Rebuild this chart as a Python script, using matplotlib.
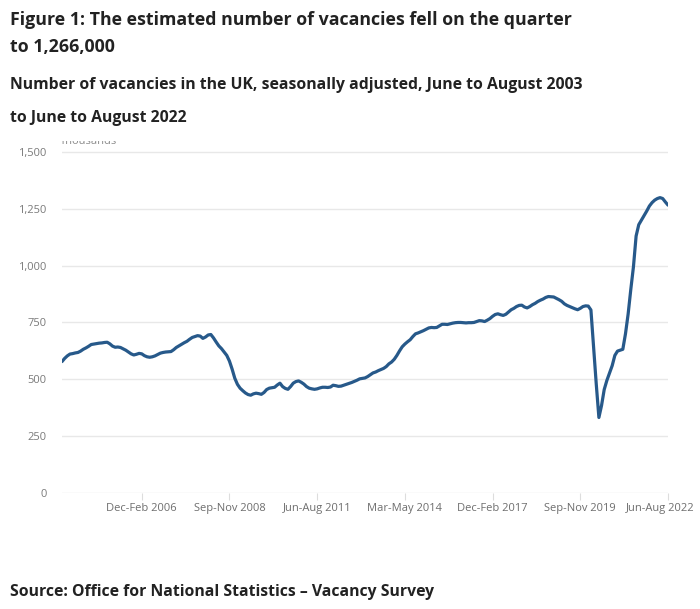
import matplotlib
matplotlib.use("Agg")
import matplotlib.pyplot as plt
import matplotlib.transforms as mtransforms

# Rolling three-month vacancies (thousands), Jun-Aug 2003 .. Jun-Aug 2022, monthly steps
vacancies_thousands = [
    578, 592, 603, 611, 613, 616, 618, 624, 632, 638, 645, 653,
    655, 657, 659, 660, 662, 663, 656, 646, 641, 642, 640, 634,
    628, 620, 612, 607, 610, 614, 612, 604, 599, 597, 599, 603,
    609, 615, 618, 620, 621, 622, 630, 640, 647, 654, 661, 667,
    676, 684, 688, 692, 690, 680, 686, 695, 697, 682, 664, 647,
    635, 620, 605, 580, 545, 505, 478, 461, 450, 440, 433, 430,
    436, 439, 437, 434, 442, 455, 461, 463, 465, 475, 483, 468,
    460, 456, 468, 483, 490, 493, 487, 479, 468, 461, 458, 456,
    458, 462, 465, 465, 464, 466, 474, 472, 469, 470, 474, 478,
    482, 486, 491, 496, 502, 504, 506, 512, 520, 528, 532, 538,
    543, 548, 556, 568, 576, 588, 605, 625, 643, 655, 665, 674,
    688, 700, 704, 709, 714, 720, 726, 728, 727, 728, 735, 742,
    742, 741, 744, 747, 749, 750, 750, 749, 748, 749, 749, 750,
    754, 758, 757, 754, 760, 767, 777, 785, 788, 784, 781, 786,
    796, 806, 812, 820, 825, 826, 818, 814, 820, 828, 834, 842,
    848, 853, 860, 864, 863, 862, 856, 850, 843, 832, 825, 820,
    815, 810, 806, 812, 820, 823, 822, 805, 645, 480, 332, 385,
    455, 495, 528, 560, 605, 624, 628, 632, 700, 787, 895, 995,
    1130, 1180, 1200, 1220, 1240, 1262, 1277, 1288, 1295, 1299, 1295, 1280, 1266,
]
x_tick_index = [30, 63, 96, 129, 162, 195, 228]
x_tick_labels = ["Dec-Feb 2006", "Sep-Nov 2008", "Jun-Aug 2011", "Mar-May 2014",
                 "Dec-Feb 2017", "Sep-Nov 2019", "Jun-Aug 2022"]
y_ticks = [0, 250, 500, 750, 1000, 1250, 1500]
y_tick_labels = ["0", "250", "500", "750", "1,000", "1,250", "1,500"]

title_lines = ["Figure 1: The estimated number of vacancies fell on the quarter",
               "to 1,266,000"]
subtitle_lines = ["Number of vacancies in the UK, seasonally adjusted, June to August 2003",
                  "to June to August 2022"]
source_text = "Source: Office for National Statistics \u2013 Vacancy Survey"

plt.rcParams['font.family'] = ['Open Sans', 'DejaVu Sans']

W, H = 700, 609
fig = plt.figure(figsize=(W / 100, H / 100), dpi=100)
fig.patch.set_facecolor("white")

left, right, bottom_px, top_px = 62, 668, 493, 141
ax = fig.add_axes([left / W, 1 - bottom_px / H, (right - left) / W, (bottom_px - top_px) / H])
ax.set_facecolor("white")

xs = list(range(len(vacancies_thousands)))
ax.plot(xs, vacancies_thousands, color="#27598a", lw=2.3, solid_joinstyle="round",
        solid_capstyle="round", zorder=3)

ax.set_xlim(0, len(vacancies_thousands) - 1)
ax.set_ylim(0, 1548)
ax.set_yticks(y_ticks)
ax.set_yticklabels(y_tick_labels)
ax.set_xticks(x_tick_index)
ax.set_xticklabels(x_tick_labels)
for s in ax.spines.values():
    s.set_visible(False)
ax.grid(axis="y", color="#e8e8e8", lw=1.0)
ax.set_axisbelow(True)
ax.tick_params(axis="y", length=0, pad=11, labelsize=8, labelcolor="#7a7a7a")
ax.tick_params(axis="x", length=5, width=0.8, color="#dddddd", pad=2,
               labelsize=8, labelcolor="#6e6e6e")

# nudge the last x label left so it stays inside the figure, as in the reference
last_lbl = ax.get_xticklabels()[-1]
last_lbl.set_transform(last_lbl.get_transform() +
                       mtransforms.ScaledTranslation(-8 / 100, 0, fig.dpi_scale_trans))

ax.text(-0.003, 1547, "Thousands", fontsize=8, color="#8a8a8a", ha="left", va="center",
        transform=ax.get_yaxis_transform(), clip_on=True)

fs_title = 12.8
fig.text(10 / W, 1 - 20 / H, title_lines[0], fontsize=fs_title, fontweight="bold",
         color="#222222", ha="left", va="center")
fig.text(10 / W, 1 - 47 / H, title_lines[1], fontsize=fs_title, fontweight="bold",
         color="#222222", ha="left", va="center")
fig.text(10 / W, 1 - 85 / H, subtitle_lines[0], fontsize=11.3, fontweight="bold",
         color="#222222", ha="left", va="center")
fig.text(10 / W, 1 - 118 / H, subtitle_lines[1], fontsize=11.3, fontweight="bold",
         color="#222222", ha="left", va="center")
fig.text(10 / W, 1 - 592 / H, source_text, fontsize=11.3, fontweight="bold",
         color="#222222", ha="left", va="center")

fig.savefig("out.png", dpi=100, facecolor="white")
